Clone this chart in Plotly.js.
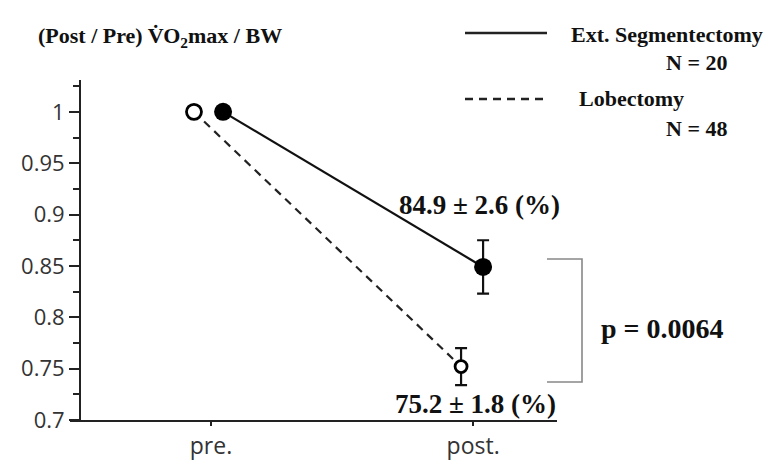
<!DOCTYPE html>
<html>
<head>
<meta charset="utf-8">
<script src="https://cdn.plot.ly/plotly-3.0.1.min.js"></script>
<style>html,body{margin:0;padding:0;background:#fff;}#chart{width:770px;height:465px;}</style>
</head>
<body>
<div id="chart"></div>
<script>
// ---- data ----
var categories = ['pre.', 'post.'];
var segValues = [1.0, 0.849];
var segErrors = [0, 0.026];
var lobValues = [1.0, 0.752];
var lobErrors = [0, 0.018];
var yTicks = [0.7, 0.75, 0.8, 0.85, 0.9, 0.95, 1];
var segLabel = '84.9 ± 2.6 (%)';
var lobLabel = '75.2 ± 1.8 (%)';
var pLabel = 'p = 0.0064';

// ---- styling / positions ----
var segOffsets = [0.046, 0.038];
var lobOffsets = [-0.065, -0.046];
var L = 70, R = 557, T = 80, B = 420, W = 770, H = 465;
function px(x){ return (x - L) / (R - L); }
function py(y){ return (B - y) / (B - T); }
var serif = 'Liberation Serif, Times New Roman, serif';
var sans = 'Open Sans, DejaVu Sans, sans-serif';

var segX = categories.map(function(c, i){ return i + segOffsets[i]; });
var lobX = categories.map(function(c, i){ return i + lobOffsets[i]; });

var traces = [
  {
    x: lobX, y: lobValues, type: 'scatter', mode: 'lines', name: 'Lobectomy',
    line: {color: '#222', width: 2.2, dash: '8px,6px'},
    error_y: {type: 'data', array: lobErrors, visible: true, color: '#111', thickness: 2.2, width: 6},
    showlegend: false
  },
  {
    x: lobX, y: lobValues, type: 'scatter', mode: 'markers', name: 'Lobectomy markers',
    marker: {symbol: 'circle', size: [15, 12], color: '#ffffff', opacity: 1, line: {color: 'black', width: 2.8}},
    showlegend: false
  },
  {
    x: segX, y: segValues, type: 'scatter', mode: 'lines+markers', name: 'Ext. Segmentectomy',
    line: {color: '#111', width: 2.2},
    marker: {symbol: 'circle', size: 18, color: '#000'},
    error_y: {type: 'data', array: segErrors, visible: true, color: '#111', thickness: 2.2, width: 6},
    showlegend: false
  }
];

var layout = {
  width: W, height: H,
  margin: {l: L, r: W - R, t: T, b: H - B, pad: 0},
  paper_bgcolor: '#fff', plot_bgcolor: '#fff',
  showlegend: false,
  xaxis: {
    range: [-0.538, 1.32], domain: [0, 1],
    tickvals: [0, 1], ticktext: categories,
    showline: true, linecolor: '#222', linewidth: 2.2,
    ticks: 'outside', ticklen: 4, tickwidth: 2, tickcolor: '#222',
    showgrid: false, zeroline: false,
    tickfont: {family: sans, size: 23, color: '#333'}
  },
  yaxis: {
    range: [0.7, 1.031], anchor: 'free', position: px(80),
    tickvals: yTicks,
    showline: true, linecolor: '#222', linewidth: 2.2,
    ticks: 'outside', ticklen: 10, tickwidth: 2, tickcolor: '#222',
    minor: {tick0: 0.7, dtick: 0.025, ticks: 'outside', ticklen: 6, tickwidth: 2, tickcolor: '#222'},
    showgrid: false, zeroline: false,
    tickfont: {family: sans, size: 22, color: '#333'}
  },
  shapes: [
    // legend swatches
    {type: 'line', xref: 'paper', yref: 'paper', x0: px(465), x1: px(547), y0: py(33), y1: py(33), line: {color: '#222', width: 2.5}},
    {type: 'line', xref: 'paper', yref: 'paper', x0: px(465), x1: px(547), y0: py(99), y1: py(99), line: {color: '#222', width: 2.5, dash: '8px,6px'}},
    // significance bracket
    {type: 'path', xref: 'paper', yref: 'paper',
     path: 'M ' + px(547) + ' ' + py(259) + ' L ' + px(582) + ' ' + py(259) + ' L ' + px(582) + ' ' + py(382) + ' L ' + px(547) + ' ' + py(382),
     line: {color: '#888', width: 1.6}}
  ],
  annotations: [
    {xref: 'paper', yref: 'paper', x: px(36), y: py(37), xanchor: 'left', yanchor: 'middle', showarrow: false,
     text: '<b>(Post / Pre) V\u0307O<sub>2</sub>max / BW</b>', font: {family: serif, size: 22, color: '#111'}},
    {xref: 'paper', yref: 'paper', x: px(569), y: py(34), xanchor: 'left', yanchor: 'middle', showarrow: false,
     text: '<b>Ext. Segmentectomy</b>', font: {family: serif, size: 22, color: '#111'}},
    {xref: 'paper', yref: 'paper', x: px(664), y: py(63), xanchor: 'left', yanchor: 'middle', showarrow: false,
     text: '<b>N = 20</b>', font: {family: serif, size: 22, color: '#111'}},
    {xref: 'paper', yref: 'paper', x: px(577), y: py(98), xanchor: 'left', yanchor: 'middle', showarrow: false,
     text: '<b>Lobectomy</b>', font: {family: serif, size: 22, color: '#111'}},
    {xref: 'paper', yref: 'paper', x: px(664), y: py(128), xanchor: 'left', yanchor: 'middle', showarrow: false,
     text: '<b>N = 48</b>', font: {family: serif, size: 22, color: '#111'}},
    {xref: 'paper', yref: 'paper', x: px(479), y: py(205), xanchor: 'center', yanchor: 'middle', showarrow: false,
     text: '<b>' + segLabel + '</b>', font: {family: serif, size: 27, color: '#111'}},
    {xref: 'paper', yref: 'paper', x: px(475), y: py(404), xanchor: 'center', yanchor: 'middle', showarrow: false,
     text: '<b>' + lobLabel + '</b>', font: {family: serif, size: 27, color: '#111'}},
    {xref: 'paper', yref: 'paper', x: px(599), y: py(328), xanchor: 'left', yanchor: 'middle', showarrow: false,
     text: '<b>' + pLabel + '</b>', font: {family: serif, size: 28, color: '#111'}}
  ]
};

Plotly.newPlot('chart', traces, layout, {displayModeBar: false, staticPlot: true});
</script>
</body>
</html>
